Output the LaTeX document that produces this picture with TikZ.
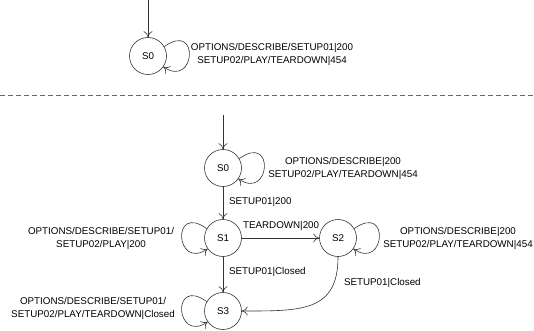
\documentclass[tikz,border=0pt]{standalone}
\usepackage{fontspec}
\setmainfont{Liberation Sans}
\usetikzlibrary{arrows.meta}

\tikzset{every picture/.style={line width=0.6pt}}
\tikzset{
  state/.style={draw=black!80, circle, minimum size=37pt, inner sep=0pt},
  lbl/.style={inner sep=0.75pt, align=center, font=\fontsize{9.8}{13}\selectfont},
  trans/.style={draw=black!80, -{To[length=6pt,width=9pt]}},
}

\begin{document}
\begin{tikzpicture}[x=1pt,y=1pt,yscale=-1,xscale=1]
\useasboundingbox (0,0) rectangle (534,331);

%Shape: Circle [top]
\node [state, font=\fontsize{9.8}{13}\selectfont] (topS0) at (148,56) {S0};
\coordinate (topIn) at (148,0);
%Straight Lines
\draw [trans] (topIn) -- (topS0);
%Loop
\draw [trans] (topS0.30) .. controls +(36,-26) and +(32,22) .. (topS0.-35);
% Text Node
\node [lbl] (topLoop) at (272,54) {OPTIONS/DESCRIBE/SETUP01|200\\SETUP02/PLAY/TEARDOWN|454};

%Dashed separator
\coordinate (sepL) at (0,95);
\coordinate (sepR) at (534,95);
\draw [black!60, dash pattern=on 5pt off 3pt] (sepL) -- (sepR);

%Shape: Circle [bottom]
\node [state, font=\fontsize{9.8}{13}\selectfont] (s0) at (223,168) {S0};
\node [state, font=\fontsize{9.8}{13}\selectfont] (s1) at (223,238) {S1};
\node [state, font=\fontsize{9.8}{13}\selectfont] (s2) at (338,238) {S2};
\node [state, font=\fontsize{9.8}{13}\selectfont] (s3) at (223,311) {S3};
\coordinate (botIn) at (223,115);

%Straight Lines
\draw [trans] (botIn) -- (s0);
\draw [trans] (s0) -- (s1);
\draw [trans] (s1) -- (s2);
\draw [trans] (s1) -- (s3);
%Curve Lines
\draw [trans] (s2.south) .. controls +(0,55) and +(60,0) .. (s3.east);
%Loops
\draw [trans] (s0.30) .. controls +(36,-26) and +(32,22) .. (s0.-35);
\draw [trans] (s2.30) .. controls +(36,-26) and +(32,22) .. (s2.-35);
\draw [trans] (s1.150) .. controls +(-36,-26) and +(-32,22) .. (s1.215);
\draw [trans] (s3.150) .. controls +(-36,-26) and +(-32,22) .. (s3.215);

% Text Node
\node [lbl] (s0Loop) at (343,168) {OPTIONS/DESCRIBE|200\\SETUP02/PLAY/TEARDOWN|454};
% Text Node
\node [lbl, anchor=west] (s0s1) at (228,202) {SETUP01|200};
% Text Node
\node [lbl, anchor=west] (s1s2) at (242,226) {TEARDOWN|200};
% Text Node
\node [lbl, anchor=west] (s1s3) at (228,272) {SETUP01|Closed};
% Text Node
\node [lbl, anchor=west] (s2s3) at (343,283) {SETUP01|Closed};
% Text Node
\node [lbl] (s1Loop) at (101,238) {OPTIONS/DESCRIBE/SETUP01/\\SETUP02/PLAY|200};
% Text Node
\node [lbl] (s2Loop) at (458,238) {OPTIONS/DESCRIBE|200\\SETUP02/PLAY/TEARDOWN|454};
% Text Node
\node [lbl] (s3Loop) at (93,308) {OPTIONS/DESCRIBE/SETUP01/\\SETUP02/PLAY/TEARDOWN|Closed};

\end{tikzpicture}
\end{document}
